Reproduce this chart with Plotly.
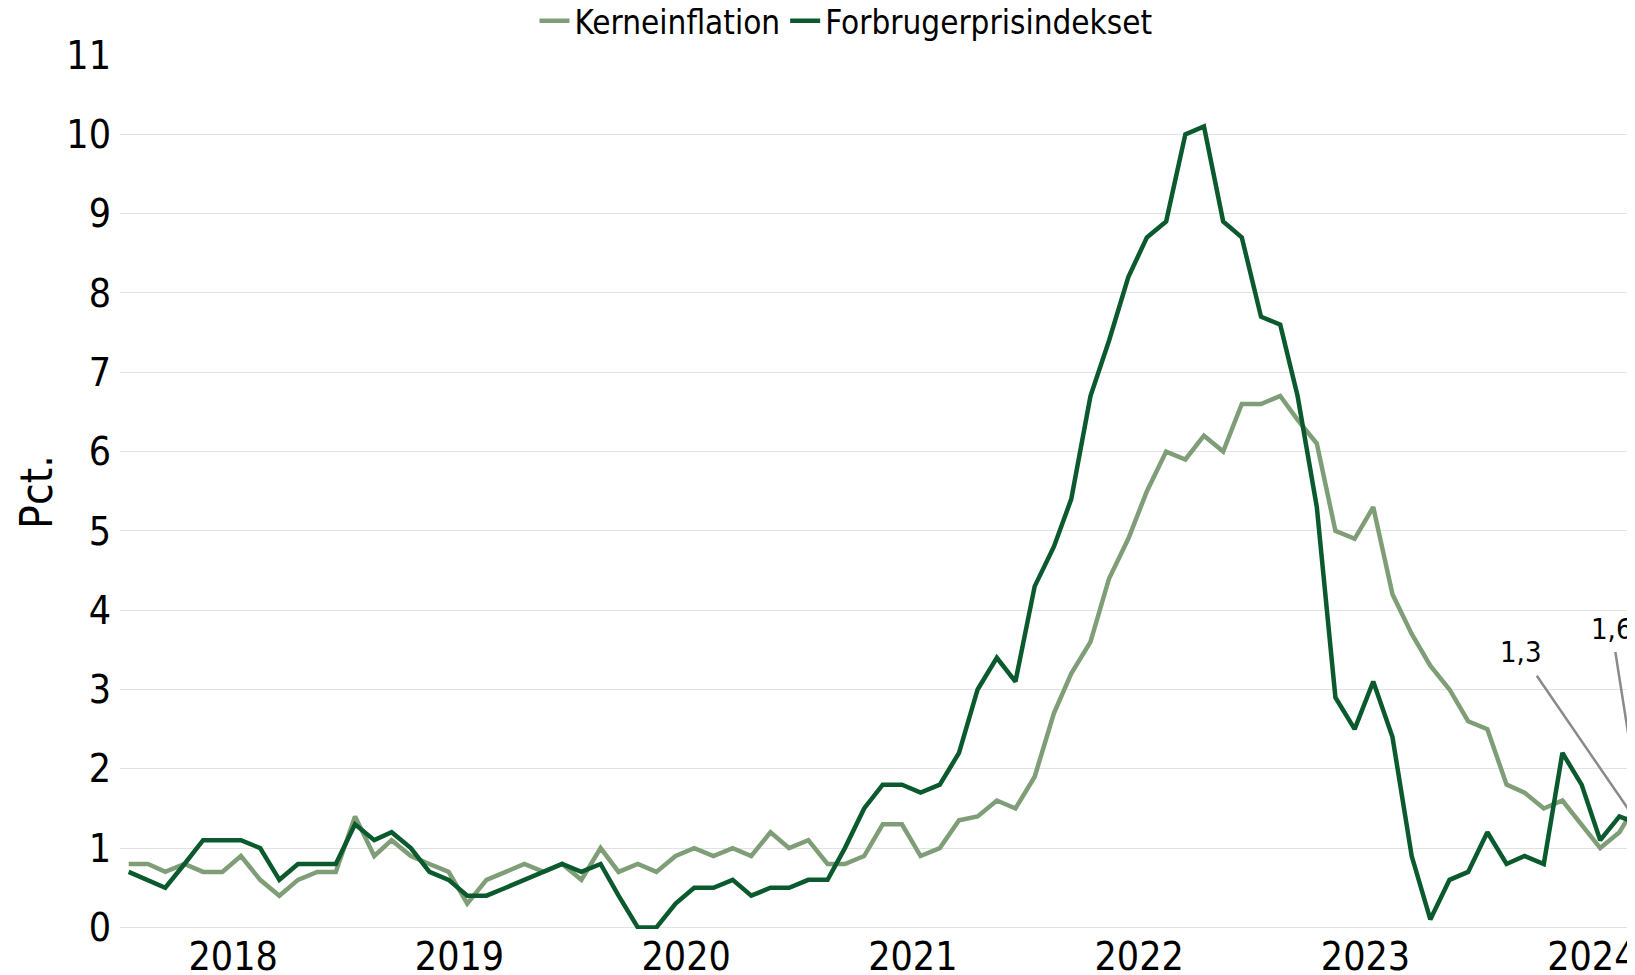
import pandas as pd
import plotly.graph_objects as go

# Månedlige tal (årlig stigning i pct.), januar 2018 - september 2024
maaneder = pd.date_range("2018-01-01", "2024-09-01", freq="MS") + pd.Timedelta(days=14)

kerneinflation = [
    0.8, 0.8, 0.7, 0.8, 0.7, 0.7, 0.9, 0.6, 0.4, 0.6, 0.7, 0.7,  # 2018
    1.4, 0.9, 1.1, 0.9, 0.8, 0.7, 0.3, 0.6, 0.7, 0.8, 0.7, 0.8,  # 2019
    0.6, 1.0, 0.7, 0.8, 0.7, 0.9, 1.0, 0.9, 1.0, 0.9, 1.2, 1.0,  # 2020
    1.1, 0.8, 0.8, 0.9, 1.3, 1.3, 0.9, 1.0, 1.35, 1.4, 1.6, 1.5,  # 2021
    1.9, 2.7, 3.2, 3.6, 4.4, 4.9, 5.5, 6.0, 5.9, 6.2, 6.0, 6.6,  # 2022
    6.6, 6.7, 6.4, 6.1, 5.0, 4.9, 5.3, 4.2, 3.7, 3.3, 3.0, 2.6,  # 2023
    2.5, 1.8, 1.7, 1.5, 1.6, 1.3, 1.0, 1.2, 1.6,                 # 2024
]

forbrugerprisindeks = [
    0.7, 0.6, 0.5, 0.8, 1.1, 1.1, 1.1, 1.0, 0.6, 0.8, 0.8, 0.8,  # 2018
    1.3, 1.1, 1.2, 1.0, 0.7, 0.6, 0.4, 0.4, 0.5, 0.6, 0.7, 0.8,  # 2019
    0.7, 0.8, 0.4, 0.0, 0.0, 0.3, 0.5, 0.5, 0.6, 0.4, 0.5, 0.5,  # 2020
    0.6, 0.6, 1.0, 1.5, 1.8, 1.8, 1.7, 1.8, 2.2, 3.0, 3.4, 3.1,  # 2021
    4.3, 4.8, 5.4, 6.7, 7.4, 8.2, 8.7, 8.9, 10.0, 10.1, 8.9, 8.7,  # 2022
    7.7, 7.6, 6.7, 5.3, 2.9, 2.5, 3.1, 2.4, 0.9, 0.1, 0.6, 0.7,  # 2023
    1.2, 0.8, 0.9, 0.8, 2.2, 1.8, 1.1, 1.4, 1.3,                 # 2024
]

FONT = "DejaVu Sans Condensed, DejaVu Sans, sans-serif"
LYS = "#7f9e78"
MOERK = "#0b5a2e"
GRAA = "#8a8a8a"


def fmt(v):
    return f"{v:.1f}".replace(".", ",")


fig = go.Figure()

fig.add_trace(go.Scatter(
    x=maaneder, y=kerneinflation, name="Kerneinflation", mode="lines",
    line=dict(color=LYS, width=4.5),
))
fig.add_trace(go.Scatter(
    x=maaneder, y=forbrugerprisindeks, name="Forbrugerprisindekset", mode="lines",
    line=dict(color=MOERK, width=4.5),
))

# cirkler om seneste observation
fig.add_trace(go.Scatter(
    x=[maaneder[-1], maaneder[-1]],
    y=[kerneinflation[-1], forbrugerprisindeks[-1]],
    mode="markers", showlegend=False, hoverinfo="skip", cliponaxis=False,
    marker=dict(symbol="circle-open", size=21, color="#9a9a9a", line=dict(width=2)),
))

for val, ax in [(forbrugerprisindeks[-1], -118), (kerneinflation[-1], -27)]:
    fig.add_annotation(
        x=maaneder[-1], y=val, text=fmt(val),
        showarrow=True, arrowhead=0, arrowwidth=2.5, arrowcolor=GRAA,
        ax=ax, ay=-172, standoff=10, borderpad=6,
        font=dict(family=FONT, size=29, color="#000000"),
    )

fig.add_annotation(
    text="Pct.", xref="paper", yref="paper", x=-0.0552, y=0.5,
    textangle=-90, showarrow=False, xanchor="center", yanchor="middle",
    font=dict(family=FONT, size=44, color="#000000"),
)

fig.update_layout(
    width=1635,
    height=975,
    margin=dict(l=112, r=0, t=47, b=54, autoexpand=False),
    paper_bgcolor="white",
    plot_bgcolor="white",
    font=dict(family=FONT, color="#000000"),
    legend=dict(
        orientation="h", x=0.4767, xanchor="center", y=1.039, yanchor="middle",
        font=dict(family=FONT, size=33, color="#000000"),
        bgcolor="rgba(0,0,0,0)",
    ),
    xaxis=dict(
        type="date",
        range=["2018-01-01", "2024-09-22"],
        tick0="2018-01-01", dtick="M12",
        ticklabelmode="period", tickformat="%Y",
        ticklabeloverflow="allow", automargin=False,
        ticklabelstandoff=1,
        showgrid=False, zeroline=False, showline=False, ticks="",
        tickfont=dict(family=FONT, size=39, color="#000000"),
    ),
    yaxis=dict(
        range=[-0.02, 11], dtick=1, tick0=0,
        gridcolor="#e2e2e2", gridwidth=1, automargin=False,
        zeroline=False, showline=False, ticks="",
        ticklabelstandoff=8,
        tickfont=dict(family=FONT, size=39, color="#000000"),
    ),
    showlegend=True,
)

fig.write_html("out.html")
